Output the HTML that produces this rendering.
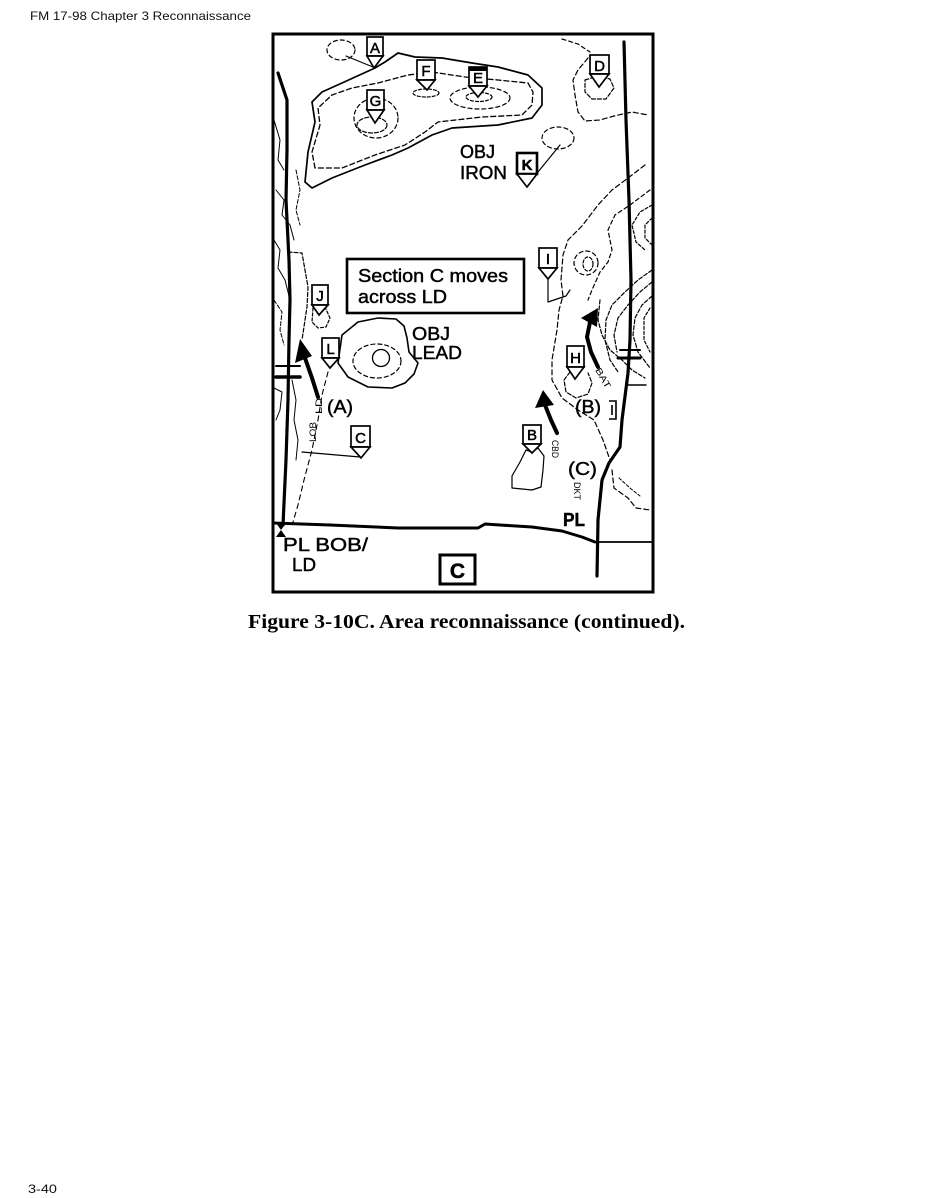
<!DOCTYPE html>
<html><head><meta charset="utf-8"><style>
html,body{margin:0;padding:0;background:#fff;}
body{width:926px;height:1198px;overflow:hidden;}
svg{display:block;}
</style></head><body>
<svg width="926" height="1198" viewBox="0 0 926 1198" xmlns="http://www.w3.org/2000/svg">
<rect width="926" height="1198" fill="#fff"/>
<text x="30" y="20" font-family="Liberation Sans, sans-serif" font-size="12" fill="#111" textLength="221" lengthAdjust="spacingAndGlyphs">FM 17-98 Chapter 3 Reconnaissance</text>
<text x="28" y="1193" font-family="Liberation Sans, sans-serif" font-size="12" fill="#111" textLength="29" lengthAdjust="spacingAndGlyphs">3-40</text>
<text x="248" y="628" font-family="Liberation Serif, serif" font-size="20" font-weight="bold" fill="#000" textLength="437" lengthAdjust="spacingAndGlyphs">Figure 3-10C. Area reconnaissance (continued).</text>

<!-- map frame -->
<rect x="273" y="34" width="380" height="558" fill="#fff" stroke="#000" stroke-width="3"/>

<g fill="none" stroke="#000" stroke-linejoin="round" stroke-linecap="round">
<!-- big hill contours -->
<path d="M375,68 L385,62 L398,53 L415,57 L442,58 L472,63 L498,67 L528,75 L542,88 L542,105 L532,118 L498,125 L452,128 L432,135 L408,148 L392,155 L365,165 L332,178 L312,188 L305,182 L308,152 L315,122 L312,102 L322,92 L342,83 Z" stroke-width="1.7"/>
<path d="M315,168 L312,152 L320,125 L318,108 L332,95 L352,88 L378,83 L408,75 L432,72 L465,77 L498,80 L528,83 L533,92 L532,105 L522,115 L482,117 L438,122 L425,132 L405,145 L375,155 L342,168 Z" stroke-width="1.3" stroke-dasharray="5 3"/>
<ellipse cx="376" cy="118" rx="22" ry="20" stroke-width="1.2" stroke-dasharray="4 3"/>
<ellipse cx="372" cy="125" rx="15" ry="8" stroke-width="1.2" stroke-dasharray="4 2"/>
<ellipse cx="480" cy="98" rx="30" ry="11" stroke-width="1.2" stroke-dasharray="4 3"/>
<ellipse cx="479" cy="97" rx="13" ry="4.5" stroke-width="1.2" stroke-dasharray="3 2"/>
<ellipse cx="426" cy="93" rx="13" ry="4" stroke-width="1.2" stroke-dasharray="3 2"/>
<!-- top-left small loop -->
<ellipse cx="341" cy="50" rx="14" ry="10" stroke-width="1.2" stroke-dasharray="4 3"/>
<path d="M346,56 L373,67" stroke-width="1.2"/>
<!-- top right contours -->
<path d="M562,39 L578,44 L590,52" stroke-width="1.2" stroke-dasharray="4 3"/>
<path d="M588,58 L578,70 L573,80 L575,95 L578,112 L585,121 L600,120 L614,116 L632,112 L648,115" stroke-width="1.2" stroke-dasharray="5 3"/>
<path d="M585,80 L598,76 L610,79 L614,88 L606,99 L592,99 L585,92 Z" stroke-width="1.2" stroke-dasharray="4 2"/>
<ellipse cx="558" cy="138" rx="16" ry="11" stroke-width="1.2" stroke-dasharray="4 3"/>
<path d="M560,145 L538,172" stroke-width="1.2"/>
<!-- right side terrain -->
<path d="M645,165 L628,178 L612,190 L598,205 L582,226 L568,240 L563,255 L561,280 L563,296 L559,310 L557,330 L552,360 L552,380 L562,398 L578,410 L594,420 L603,440 L610,460" stroke-width="1.2" stroke-dasharray="5 3"/>
<path d="M650,190 L630,205 L615,215 L608,230 L612,250 L608,262 L600,272 L592,290 L588,300" stroke-width="1.2" stroke-dasharray="4 3"/>
<path d="M652,205 L640,212 L632,225 L636,242 L645,250" stroke-width="1.2" stroke-dasharray="3 2"/>
<path d="M652,218 L645,225 L645,238 L652,245" stroke-width="1.2" stroke-dasharray="3 2"/>
<ellipse cx="586" cy="263" rx="12" ry="12" stroke-width="1.2" stroke-dasharray="4 3"/>
<ellipse cx="588" cy="264" rx="5" ry="7" stroke-width="1.2" stroke-dasharray="3 2"/>
<path d="M652,270 L638,280 L625,292 L612,305 L606,320 L605,340 L610,360 L618,372" stroke-width="1.2" stroke-dasharray="4 2"/>
<path d="M652,282 L640,292 L628,305 L618,318 L614,335 L617,352" stroke-width="1.2" stroke-dasharray="4 2"/>
<path d="M652,296 L642,305 L635,318 L633,335 L638,352 L650,368" stroke-width="1.2" stroke-dasharray="4 2"/>
<path d="M650,308 L644,318 L644,340 L650,352" stroke-width="1.2" stroke-dasharray="3 2"/>
<path d="M600,300 L598,320 L602,335 L610,350 L622,360 L632,370 L645,378" stroke-width="1.2" stroke-dasharray="4 2"/>
<path d="M570,372 L564,380 L566,392 L576,398 L588,394 L592,383 L588,373" stroke-width="1.2" stroke-dasharray="4 2"/>
<path d="M612,470 L614,488 L628,498 L636,508 L650,510" stroke-width="1.2" stroke-dasharray="5 3"/>
<path d="M619,478 L630,488 L640,496" stroke-width="1" stroke-dasharray="3 2"/>
<path d="M628,385 L646,385" stroke-width="1.4"/>
<!-- B blob -->
<path d="M532,452 L526,450 L520,462 L512,476 L512,488 L532,490 L541,487 L543,470 L544,456 L538,448 Z" stroke-width="1.2"/>
<!-- I marker line -->
<path d="M548,279 L548,302 L566,296 L570,290" stroke-width="1.2"/>
<!-- left side terrain -->
<path d="M274,120 L280,140 L278,160 L284,170" stroke-width="1" />
<path d="M276,190 L284,200 L282,215 L290,225 L294,240" stroke-width="1"/>
<path d="M296,170 L300,190 L296,210 L300,225" stroke-width="1" stroke-dasharray="4 2"/>
<path d="M274,240 L280,250 L278,268 L285,280 L290,300" stroke-width="1"/>
<path d="M274,300 L282,312 L280,330 L284,345" stroke-width="1" stroke-dasharray="4 2"/>
<path d="M288,252 L302,253 L305,270 L308,287 L307,307 L305,320 L302,340" stroke-width="1.2" stroke-dasharray="4 2"/>
<path d="M313,308 L312,322 L318,328 L326,327 L330,318 L326,309" stroke-width="1.2" stroke-dasharray="3 2"/>
<path d="M274,388 L282,392 L280,410 L276,420" stroke-width="1"/>
<path d="M292,380 L296,400 L294,420 L298,440 L296,460" stroke-width="1"/>
<!-- L dashed route -->
<path d="M328,372 L322,395 L318,420 L312,450 L304,480 L298,505 L293,522" stroke-width="1.1" stroke-dasharray="5 4"/>
<path d="M302,452 L360,457" stroke-width="1.2"/>
<!-- OBJ LEAD hill -->
<path d="M342,335 L358,322 L378,318 L396,319 L404,326 L407,338 L409,352 L418,363 L414,374 L405,383 L392,388 L368,387 L348,377 L338,363 Z" stroke-width="1.6"/>
<ellipse cx="377" cy="361" rx="24" ry="17" stroke-width="1.2" stroke-dasharray="4 3"/>
<circle cx="381" cy="358" r="8.5" stroke-width="1.3"/>

<!-- roads -->
<path d="M278,73 L287,100 L287,150 L286,200 L289,260 L290,300 L289,340 L288,400 L286,460 L283,525" stroke-width="3.2"/>
<path d="M624,42 L626,120 L629,200 L631,280 L630,340 L628,373 L622,420 L620,447 L609,463 L602,480 L598,520 L597,576" stroke-width="3.2"/>
<path d="M276,366 L300,366" stroke-width="2"/>
<path d="M276,377 L300,377" stroke-width="3.5"/>
<path d="M620,350 L640,350" stroke-width="2"/>
<path d="M618,358 L640,358" stroke-width="3"/>
<!-- PL line -->
<path d="M273,523 L330,525 L398,528 L478,528 L485,524 L500,525 L532,527 L562,531 L582,537 L595,542" stroke-width="3"/>
<path d="M595,542 L653,542" stroke-width="1.8"/>

<!-- arrows shafts -->
<path d="M305,358 L312,378 L318,397" stroke-width="4"/>
<path d="M590,322 L587,337 L591,352 L598,367" stroke-width="4"/>
<path d="M545,405 L551,420 L557,433" stroke-width="4"/>
</g>
<!-- arrowheads -->
<g fill="#000">
<polygon points="300,339 295,363 312,356"/>
<polygon points="598,308 581,318 597,327"/>
<polygon points="543,390 535,408 554,405"/>
<polygon points="276,523 286,523 281,530"/>
<polygon points="276,537 286,537 281,530"/>
</g>

<!-- markers -->
<g fill="#fff" stroke="#000" stroke-width="1.7" stroke-linejoin="miter">
<rect x="367" y="37" width="16" height="19"/><polygon points="367,56 383,56 374,68"/>
<rect x="417" y="60" width="18" height="20"/><polygon points="417,80 435,80 427,90"/>
<rect x="469" y="67" width="18" height="19"/><polygon points="469,86 487,86 478,97"/>
<rect x="367" y="90" width="17" height="20"/><polygon points="367,110 384,110 375,123"/>
<rect x="590" y="55" width="19" height="19"/><polygon points="590,74 609,74 599,87"/>
<rect x="517" y="153" width="20" height="21" stroke-width="2.6"/><polygon points="517,174 537,174 527,187"/>
<rect x="539" y="248" width="18" height="20"/><polygon points="539,268 557,268 548,279"/>
<rect x="312" y="285" width="16" height="20"/><polygon points="312,305 328,305 319,315"/>
<rect x="322" y="338" width="17" height="20"/><polygon points="322,358 339,358 330,368"/>
<rect x="567" y="346" width="17" height="21"/><polygon points="567,367 584,367 575,379"/>
<rect x="351" y="426" width="19" height="21"/><polygon points="351,447 370,447 361,458"/>
<rect x="523" y="425" width="18" height="19"/><polygon points="523,444 541,444 532,453"/>
<rect x="347" y="259" width="177" height="54" stroke-width="2.6"/>
<rect x="440" y="555" width="35" height="29" stroke-width="3"/>
</g>
<rect x="469" y="67" width="18" height="4" fill="#000"/>

<g font-family="Liberation Sans, sans-serif" fill="#000" stroke="#000" stroke-width="0.5" text-anchor="middle" font-size="15">
<text x="375" y="53">A</text>
<text x="426" y="76">F</text>
<text x="478" y="83">E</text>
<text x="375.5" y="106">G</text>
<text x="599.5" y="71">D</text>
<text x="527" y="170" font-weight="bold">K</text>
<text x="548" y="264">I</text>
<text x="320" y="301">J</text>
<text x="330.5" y="354">L</text>
<text x="575.5" y="363">H</text>
<text x="360.5" y="443">C</text>
<text x="532" y="440">B</text>
<text x="457.5" y="578" font-size="21" font-weight="bold">C</text>
</g>
<g font-family="Liberation Sans, sans-serif" fill="#000" stroke="#000" stroke-width="0.45" font-size="18">
<text x="358" y="282" textLength="150" lengthAdjust="spacingAndGlyphs">Section C moves</text>
<text x="358" y="303" textLength="89" lengthAdjust="spacingAndGlyphs">across LD</text>
<text x="412" y="340" textLength="38" lengthAdjust="spacingAndGlyphs">OBJ</text>
<text x="412" y="359" textLength="50" lengthAdjust="spacingAndGlyphs">LEAD</text>
<text x="460" y="158" textLength="35" lengthAdjust="spacingAndGlyphs">OBJ</text>
<text x="460" y="179" textLength="47" lengthAdjust="spacingAndGlyphs">IRON</text>
<text x="283" y="551" textLength="85" lengthAdjust="spacingAndGlyphs">PL BOB/</text>
<text x="292" y="571" textLength="24" lengthAdjust="spacingAndGlyphs">LD</text>
<text x="563" y="526" font-weight="bold" textLength="22" lengthAdjust="spacingAndGlyphs">PL</text>
<text x="327" y="413" textLength="26" lengthAdjust="spacingAndGlyphs">(A)</text>
<text x="575" y="413" textLength="26" lengthAdjust="spacingAndGlyphs">(B)</text>
<text x="568" y="475" textLength="29" lengthAdjust="spacingAndGlyphs">(C)</text>
</g>
<g font-family="Liberation Sans, sans-serif" fill="#000" font-size="9">
<text transform="translate(322,414) rotate(-90)" textLength="16" lengthAdjust="spacingAndGlyphs">LD</text>
<text transform="translate(316,442) rotate(-90)" textLength="20" lengthAdjust="spacingAndGlyphs">LOB</text>
<text transform="translate(595,370) rotate(60)" textLength="22" lengthAdjust="spacingAndGlyphs">BAT</text>
<text transform="translate(552,440) rotate(90)" textLength="18" lengthAdjust="spacingAndGlyphs">CBD</text>
<text transform="translate(574,482) rotate(90)" textLength="18" lengthAdjust="spacingAndGlyphs">DKT</text>
</g>
<path d="M609,401 L616,401 L616,419 L609,419 M612,405 L612,415" fill="none" stroke="#000" stroke-width="1.6"/>
</svg>
</body></html>
